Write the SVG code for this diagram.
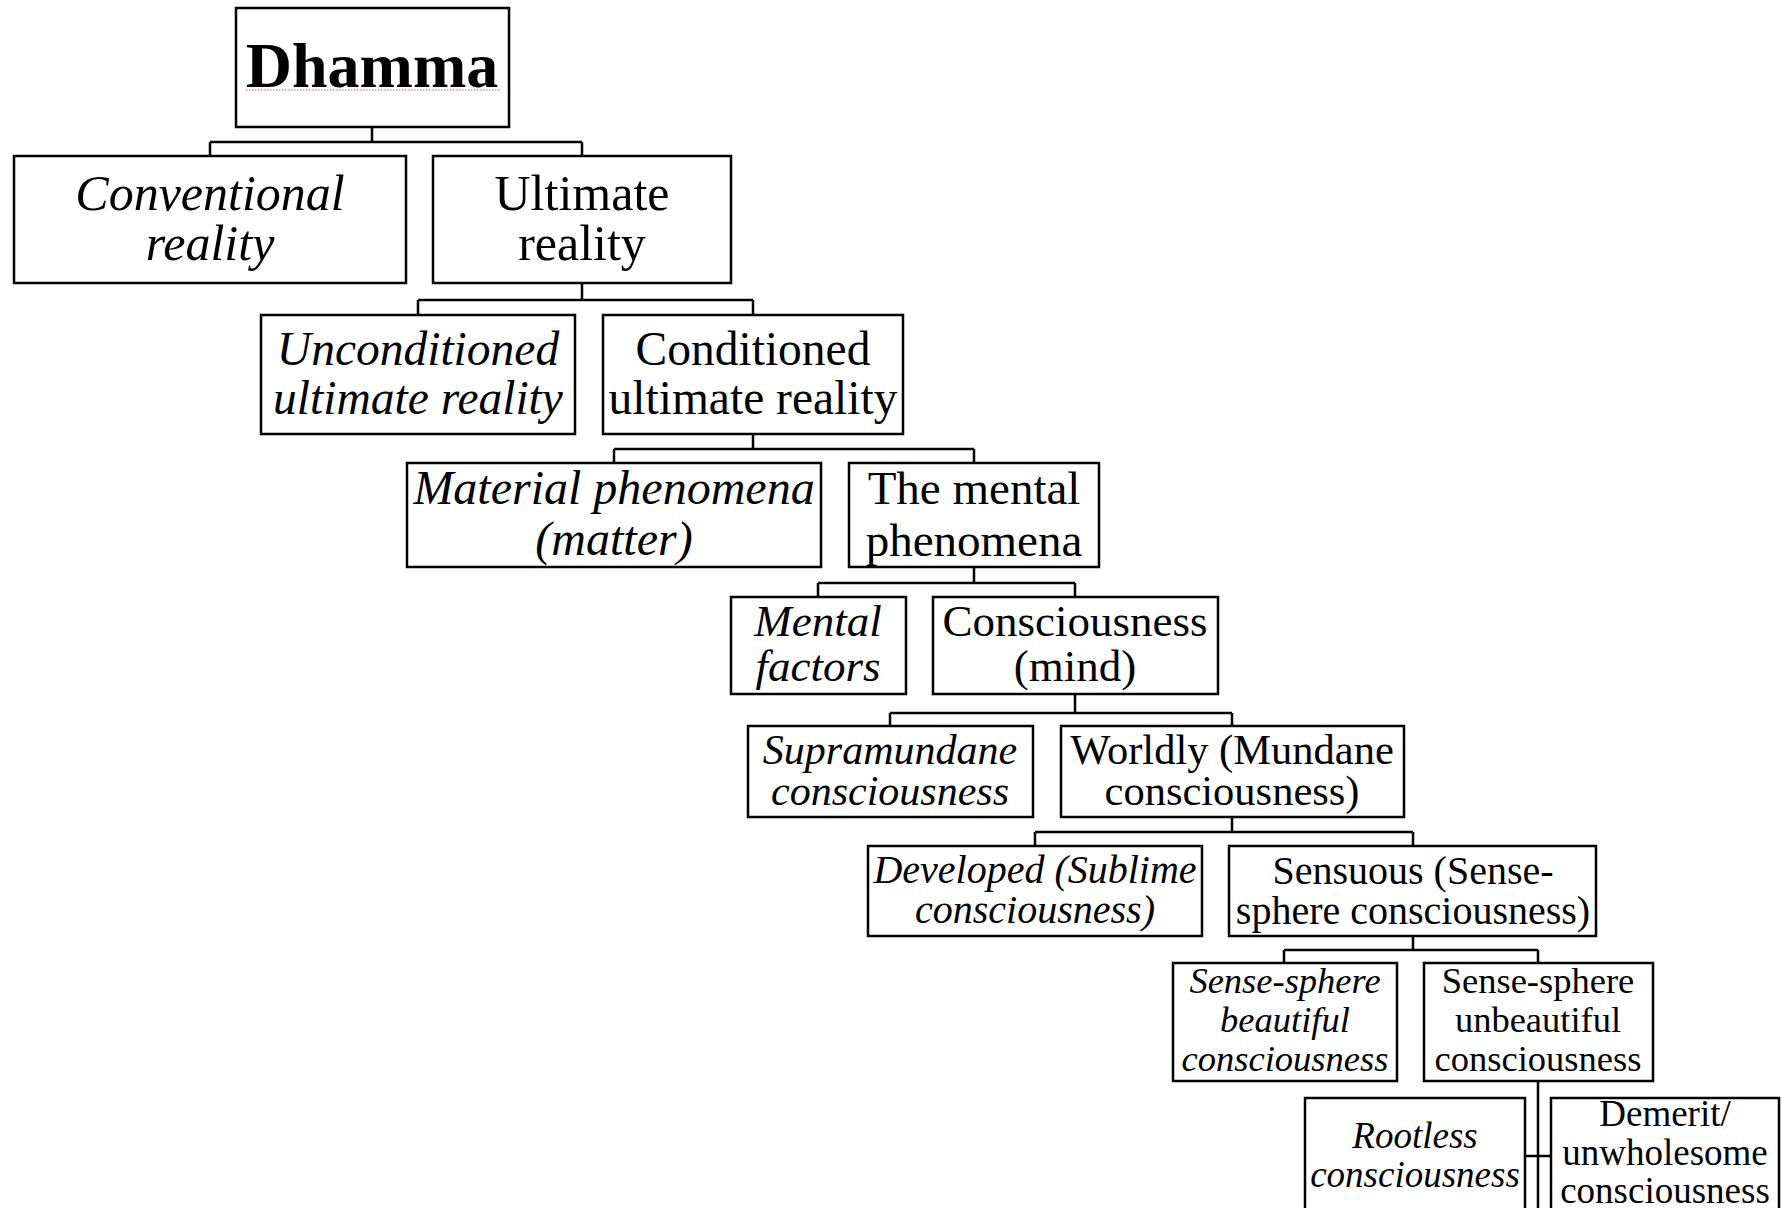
<svg xmlns="http://www.w3.org/2000/svg" width="1782" height="1208" viewBox="0 0 1782 1208">
  <style>
    .box { fill: #ffffff; stroke: #000000; stroke-width: 2.5; }
    .wire { fill: none; stroke: #000000; stroke-width: 2.5; }
    text { font-family: "Liberation Serif", "Times New Roman", serif; fill: #000000; text-anchor: middle; }
    .it { font-style: italic; }
    .bold { font-weight: bold; }
    .spell { fill: none; stroke: #e06a6a; stroke-width: 1.6; stroke-dasharray: 1.5 1.5; opacity: 0.75; }
  </style>
  <rect width="1782" height="1208" fill="#ffffff"/>

  <!-- tree connectors: parent stem, crossbar, child drops -->
  <g id="connectors">
    <path class="wire" d="M372 127 V142 M210 142 H582 M210 142 V156 M582 142 V156"/>
    <path class="wire" d="M582 283 V300 M418 300 H753 M418 300 V315 M753 300 V315"/>
    <path class="wire" d="M753 434 V449 M614 449 H974 M614 449 V463 M974 449 V463"/>
    <path class="wire" d="M974 566 V583 M818 583 H1075 M818 583 V597 M1075 583 V597"/>
    <path class="wire" d="M1075 694 V713 M890 713 H1232 M890 713 V726 M1232 713 V726"/>
    <path class="wire" d="M1232 817 V832 M1035 832 H1413 M1035 832 V846 M1413 832 V846"/>
    <path class="wire" d="M1413 936 V950 M1284 950 H1538 M1284 950 V963 M1538 950 V963"/>
    <path class="wire" d="M1538 1081 V1210 M1525 1156 H1551"/>
  </g>

  <g id="dhamma">
    <rect class="box" x="236" y="8" width="273" height="119"/>
    <text class="bold" x="372" y="87" font-size="64">Dhamma</text>
    <line class="spell" x1="246" y1="90" x2="500" y2="90"/>
  </g>

  <g id="conventional">
    <rect class="box" x="14" y="156" width="392" height="127"/>
    <text class="it" x="210" y="210" font-size="50">Conventional</text>
    <text class="it" x="210" y="260" font-size="50">reality</text>
  </g>

  <g id="ultimate">
    <rect class="box" x="433" y="156" width="298" height="127"/>
    <text x="582" y="210" font-size="50">Ultimate</text>
    <text x="582" y="260" font-size="50">reality</text>
  </g>

  <g id="unconditioned">
    <rect class="box" x="261" y="315" width="314" height="119"/>
    <text class="it" x="418" y="365" font-size="47.5">Unconditioned</text>
    <text class="it" x="418" y="414" font-size="47.5">ultimate reality</text>
  </g>

  <g id="conditioned">
    <rect class="box" x="603" y="315" width="300" height="119"/>
    <text x="753" y="365" font-size="47.5">Conditioned</text>
    <text x="753" y="414" font-size="47.5">ultimate reality</text>
  </g>

  <g id="material">
    <rect class="box" x="407" y="463" width="414" height="104"/>
    <text class="it" x="614" y="504" font-size="48">Material phenomena</text>
    <text class="it" x="614" y="555" font-size="48">(matter)</text>
  </g>

  <g id="mental-phenomena">
    <rect class="box" x="849" y="463" width="250" height="104"/>
    <text x="974" y="504" font-size="47">The mental</text>
    <text x="974" y="556" font-size="47">phenomena</text>
  </g>

  <g id="mental-factors">
    <rect class="box" x="731" y="597" width="175" height="97"/>
    <text class="it" x="818" y="636" font-size="45">Mental</text>
    <text class="it" x="818" y="681" font-size="45">factors</text>
  </g>

  <g id="consciousness">
    <rect class="box" x="933" y="597" width="285" height="97"/>
    <text x="1075" y="636" font-size="45">Consciousness</text>
    <text x="1075" y="681" font-size="45">(mind)</text>
  </g>

  <g id="supramundane">
    <rect class="box" x="748" y="726" width="285" height="91"/>
    <text class="it" x="890" y="764" font-size="42">Supramundane</text>
    <text class="it" x="890" y="805" font-size="42">consciousness</text>
  </g>

  <g id="worldly">
    <rect class="box" x="1061" y="726" width="343" height="91"/>
    <text x="1232" y="764" font-size="42.5">Worldly (Mundane</text>
    <text x="1232" y="805" font-size="42.5">consciousness)</text>
  </g>

  <g id="developed">
    <rect class="box" x="868" y="846" width="334" height="90"/>
    <text class="it" x="1035" y="883" font-size="40">Developed (Sublime</text>
    <text class="it" x="1035" y="923" font-size="40">consciousness)</text>
  </g>

  <g id="sensuous">
    <rect class="box" x="1229" y="846" width="367" height="90"/>
    <text x="1413" y="884" font-size="40">Sensuous (Sense-</text>
    <text x="1413" y="924" font-size="40">sphere consciousness)</text>
  </g>

  <g id="beautiful">
    <rect class="box" x="1173" y="963" width="224" height="118"/>
    <text class="it" x="1285" y="993" font-size="36.5">Sense-sphere</text>
    <text class="it" x="1285" y="1032" font-size="36.5">beautiful</text>
    <text class="it" x="1285" y="1071" font-size="36.5">consciousness</text>
  </g>

  <g id="unbeautiful">
    <rect class="box" x="1424" y="963" width="229" height="118"/>
    <text x="1538" y="993" font-size="36.5">Sense-sphere</text>
    <text x="1538" y="1032" font-size="36.5">unbeautiful</text>
    <text x="1538" y="1071" font-size="36.5">consciousness</text>
  </g>

  <g id="rootless">
    <rect class="box" x="1305" y="1098" width="220" height="130"/>
    <text class="it" x="1415" y="1148" font-size="37">Rootless</text>
    <text class="it" x="1415" y="1187" font-size="37">consciousness</text>
  </g>

  <g id="demerit">
    <rect class="box" x="1551" y="1098" width="228" height="130"/>
    <text x="1665" y="1126" font-size="37">Demerit/</text>
    <text x="1665" y="1165" font-size="37">unwholesome</text>
    <text x="1665" y="1203" font-size="37">consciousness</text>
  </g>
</svg>
